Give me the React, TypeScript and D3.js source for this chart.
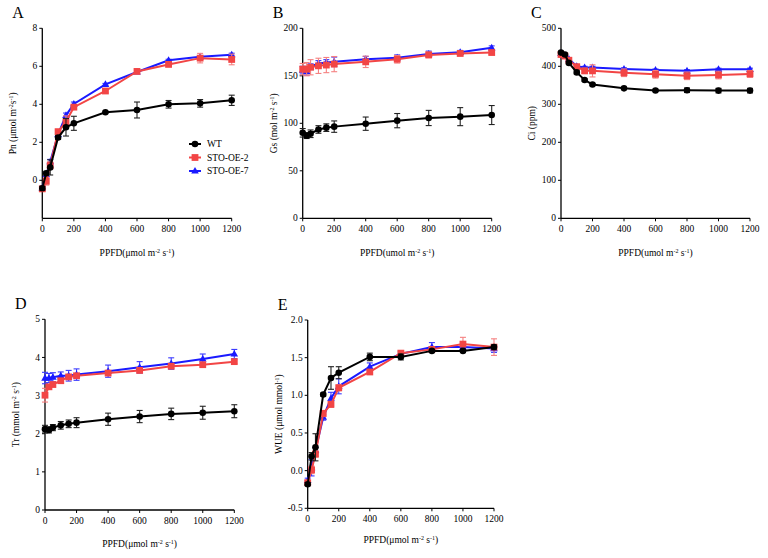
import React from "react";
import * as d3 from "d3";

const ppfd = [0, 25, 50, 100, 150, 200, 400, 600, 800, 1000, 1200];
const xTicks = [0, 200, 400, 600, 800, 1000, 1200];
const seriesNames = ["WT", "STO-OE-2", "STO-OE-7"];

// Pn
const pnWT = [-0.42, 0.37, 0.68, 2.25, 2.79, 3.0, 3.58, 3.7, 4.0, 4.05, 4.21];
const pnWTErr = [0.1, 0.1, 0.4, 0.1, 0.46, 0.37, 0.05, 0.42, 0.2, 0.2, 0.27];
const pnOE2 = [-0.45, -0.05, 0.78, 2.56, 3.09, 3.85, 4.7, 5.73, 6.1, 6.43, 6.36];
const pnOE2Err = [0.1, 0.2, 0.2, 0.12, 0.3, 0.1, 0.1, 0.1, 0.08, 0.25, 0.28];
const pnOE7 = [-0.4, 0.3, 0.98, 2.42, 3.42, 4.02, 5.05, 5.7, 6.32, 6.5, 6.61];
const pnOE7Err = [0.08, 0.1, 0.12, 0.1, 0.12, 0.1, 0.05, 0.05, 0.05, 0.05, 0.08];

// Gs
const gsWT = [90, 87, 89, 93.5, 95.4, 96.5, 99.6, 102.8, 105.6, 107, 108.7];
const gsWTErr = [4.5, 3, 4, 4, 4, 6, 7, 7.5, 8, 9.5, 10];
const gsOE2 = [157, 157, 159, 160.5, 161.3, 162.3, 164.7, 167.4, 172, 173.5, 174.5];
const gsOE2Err = [6, 7, 8, 8, 8, 8, 6, 4, 3, 2, 2];
const gsOE7 = [156, 154.7, 159.6, 163, 164, 164.7, 167.4, 169, 173, 174.7, 179.5];
const gsOE7Err = [4, 4, 3, 3, 3, 5, 3, 3, 3, 2, 2];

// Ci
const ciWT = [436, 431, 409, 384, 364, 352, 342, 336.5, 337, 336, 336];
const ciWTErr = [3, 3, 3, 4, 3, 3, 3, 3, 6, 6, 6];
const ciOE2 = [431, 427, 416, 399, 388, 388, 383, 379, 375, 377, 380];
const ciOE2Err = [3, 3, 4, 5, 7, 16, 10, 10, 10, 10, 9];
const ciOE7 = [434, 428, 419, 400, 397, 397, 393, 390, 388, 392, 392];
const ciOE7Err = [3, 3, 3, 3, 3, 3, 3, 3, 3, 3, 3];

// Tr
const trWT = [2.12, 2.1, 2.16, 2.22, 2.26, 2.29, 2.38, 2.45, 2.52, 2.55, 2.59];
const trWTErr = [0.1, 0.08, 0.08, 0.1, 0.1, 0.13, 0.16, 0.16, 0.15, 0.17, 0.17];
const trOE2 = [3.01, 3.23, 3.29, 3.39, 3.49, 3.52, 3.59, 3.66, 3.77, 3.81, 3.89];
const trOE2Err = [0.18, 0.06, 0.05, 0.05, 0.05, 0.05, 0.05, 0.05, 0.05, 0.04, 0.05];
const trOE7 = [3.46, 3.46, 3.48, 3.52, 3.52, 3.55, 3.64, 3.74, 3.84, 3.96, 4.09];
const trOE7Err = [0.15, 0.12, 0.12, 0.1, 0.14, 0.15, 0.16, 0.15, 0.15, 0.13, 0.12];

// WUE
const wueWT = [-0.18, 0.19, 0.31, 1.01, 1.23, 1.3, 1.51, 1.51, 1.59, 1.59, 1.64];
const wueWTErr = [0.02, 0.05, 0.18, 0.02, 0.15, 0.08, 0.05, 0.04, 0.02, 0.02, 0.03];
const wueOE2 = [-0.16, 0.01, 0.22, 0.76, 0.88, 1.1, 1.31, 1.56, 1.61, 1.68, 1.64];
const wueOE2Err = [0.03, 0.05, 0.04, 0.04, 0.04, 0.04, 0.02, 0.03, 0.03, 0.09, 0.11];
const wueOE7 = [-0.13, 0.04, 0.27, 0.71, 0.96, 1.12, 1.38, 1.55, 1.64, 1.64, 1.62];
const wueOE7Err = [0.03, 0.11, 0.04, 0.04, 0.08, 0.1, 0.05, 0.03, 0.06, 0.03, 0.05];

const colors = ["#000000", "#f24545", "#1a1aff"];
const errColors = ["#222222", "#f58080", "#3a3aff"];

type Panel = {
  letter: string;
  x0: number; x1: number; yTop: number; yBot: number;
  domain: [number, number];
  yTicks: number[];
  yFmt: (v: number) => string;
  yTitle: React.ReactNode;
  xTitle: React.ReactNode;
  xTitleY: number;
  series: number[][];
  errs: number[][];
  legend?: boolean;
};

const sup = (t: string) => <tspan baselineShift="super" fontSize="6">{t}</tspan>;

const panels: Panel[] = [
  {
    letter: "A", x0: 42.3, x1: 231.7, yTop: 28.3, yBot: 218.3, domain: [-2, 8],
    yTicks: [0, 2, 4, 6, 8], yFmt: (v) => String(v),
    yTitle: <>Pn (μmol m{sup("-2")}s{sup("-1")})</>,
    xTitle: <>PPFD(μmol m{sup("-2")} s{sup("-1")})</>, xTitleY: 256,
    series: [pnWT, pnOE2, pnOE7], errs: [pnWTErr, pnOE2Err, pnOE7Err], legend: true,
  },
  {
    letter: "B", x0: 302.7, x1: 491.7, yTop: 28.3, yBot: 218.3, domain: [0, 200],
    yTicks: [0, 50, 100, 150, 200], yFmt: (v) => String(v),
    yTitle: <>Gs (mol m{sup("-2")} s{sup("-1")})</>,
    xTitle: <>PPFD(umol m{sup("-2")} s{sup("-1")})</>, xTitleY: 256,
    series: [gsWT, gsOE2, gsOE7], errs: [gsWTErr, gsOE2Err, gsOE7Err],
  },
  {
    letter: "C", x0: 561, x1: 750, yTop: 28.3, yBot: 218.3, domain: [0, 500],
    yTicks: [0, 100, 200, 300, 400, 500], yFmt: (v) => String(v),
    yTitle: <>Ci (ppm)</>,
    xTitle: <>PPFD(umol m{sup("-2")} s{sup("-1")})</>, xTitleY: 256,
    series: [ciWT, ciOE2, ciOE7], errs: [ciWTErr, ciOE2Err, ciOE7Err],
  },
  {
    letter: "D", x0: 45, x1: 234.3, yTop: 319.3, yBot: 510, domain: [0, 5],
    yTicks: [0, 1, 2, 3, 4, 5], yFmt: (v) => String(v),
    yTitle: <>Tr (mmol m{sup("-2")} s{sup("-1")})</>,
    xTitle: <>PPFD(μmol m{sup("-2")} s{sup("-1")})</>, xTitleY: 547,
    series: [trWT, trOE2, trOE7], errs: [trWTErr, trOE2Err, trOE7Err],
  },
  {
    letter: "E", x0: 307.7, x1: 494, yTop: 320, yBot: 508.3, domain: [-0.5, 2],
    yTicks: [-0.5, 0, 0.5, 1, 1.5, 2], yFmt: (v) => v.toFixed(1),
    yTitle: <>WUE (μmol mmol{sup("-1")})</>,
    xTitle: <>PPFD(μmol m{sup("-2")} s{sup("-1")})</>, xTitleY: 543,
    series: [wueWT, wueOE2, wueOE7], errs: [wueWTErr, wueOE2Err, wueOE7Err],
  },
];

const FONT = "'Liberation Serif', 'Times New Roman', serif";

function Marker({ i, x, y }: { i: number; x: number; y: number }) {
  if (i === 0) return <circle cx={x} cy={y} r={3.3} fill={colors[0]} />;
  if (i === 1) return <rect x={x - 3.4} y={y - 3.4} width={6.8} height={6.8} fill={colors[1]} />;
  return <path d={`M${x},${y - 4}L${x + 3.8},${y + 2.6}L${x - 3.8},${y + 2.6}Z`} fill={colors[2]} />;
}

function PanelView({ p }: { p: Panel }) {
  const x = d3.scaleLinear().domain([0, 1200]).range([p.x0, p.x1]);
  const y = d3.scaleLinear().domain(p.domain).range([p.yBot, p.yTop]);
  const line = d3.line<number>().x((_, k) => x(ppfd[k])).y((v) => y(v));
  const order = [2, 1, 0];
  const yMid = (p.yTop + p.yBot) / 2;
  const xMid = (p.x0 + p.x1) / 2;
  return (
    <g fontFamily={FONT}>
      <text x={p.x0 - 30} y={p.yTop - 10} fontSize={16}>{p.letter}</text>
      {/* axes */}
      <line x1={p.x0} x2={p.x0} y1={p.yTop} y2={p.yBot} stroke="#000" strokeWidth={1.3} />
      <line x1={p.x0} x2={p.x1} y1={p.yBot} y2={p.yBot} stroke="#000" strokeWidth={1.3} />
      {p.yTicks.map((t) => (
        <g key={"y" + t}>
          <line x1={p.x0 - 3} x2={p.x0} y1={y(t)} y2={y(t)} stroke="#000" strokeWidth={1} />
          <text x={p.x0 - 5} y={y(t)} dy="0.33em" textAnchor="end" fontSize={9.5}>{p.yFmt(t)}</text>
        </g>
      ))}
      {xTicks.map((t) => (
        <g key={"x" + t}>
          <line x1={x(t)} x2={x(t)} y1={p.yBot} y2={p.yBot + 3} stroke="#000" strokeWidth={1} />
          <text x={x(t)} y={p.yBot + 14} textAnchor="middle" fontSize={9.5}>{t}</text>
        </g>
      ))}
      <text x={xMid} y={p.xTitleY} textAnchor="middle" fontSize={9.5}>{p.xTitle}</text>
      <text transform={`translate(${p.x0 - 26},${yMid}) rotate(-90)`} textAnchor="middle" fontSize={9.5}>{p.yTitle}</text>
      {order.map((i) => (
        <g key={"s" + i}>
          {p.series[i].map((v, k) => {
            const e = p.errs[i][k];
            const cx = x(ppfd[k]);
            return (
              <g key={k} stroke={errColors[i]} strokeWidth={1.1}>
                <line x1={cx} x2={cx} y1={y(v - e)} y2={y(v + e)} />
                <line x1={cx - 3} x2={cx + 3} y1={y(v - e)} y2={y(v - e)} />
                <line x1={cx - 3} x2={cx + 3} y1={y(v + e)} y2={y(v + e)} />
              </g>
            );
          })}
          <path d={line(p.series[i]) || ""} fill="none" stroke={colors[i]} strokeWidth={2} />
          {p.series[i].map((v, k) => (
            <Marker key={k} i={i} x={x(ppfd[k])} y={y(v)} />
          ))}
        </g>
      ))}
      {p.legend &&
        seriesNames.map((n, i) => {
          const ly = 144 + i * 13.5;
          return (
            <g key={n}>
              <line x1={189} x2={201} y1={ly} y2={ly} stroke={colors[i]} strokeWidth={2} />
              <Marker i={i} x={195} y={ly} />
              <text x={207} y={ly} dy="0.33em" fontSize={9.5}>{n}</text>
            </g>
          );
        })}
    </g>
  );
}

export default function App() {
  return (
    <svg width={768} height={558} style={{ position: "absolute", left: 0, top: 0, background: "#fff" }}>
      <rect width={768} height={558} fill="#fff" />
      {panels.map((p) => (
        <PanelView key={p.letter} p={p} />
      ))}
    </svg>
  );
}
